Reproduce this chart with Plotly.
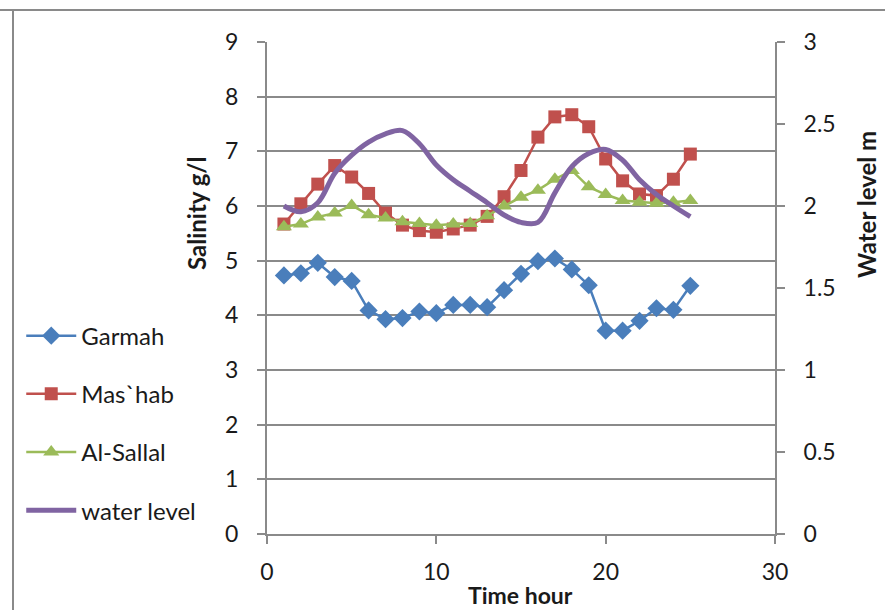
import plotly.graph_objects as go

hours = list(range(1, 26))
garmah = [4.73, 4.77, 4.96, 4.70, 4.63, 4.09, 3.93, 3.95, 4.07, 4.04, 4.19, 4.19, 4.15,
          4.46, 4.76, 4.99, 5.04, 4.84, 4.55, 3.72, 3.72, 3.90, 4.13, 4.10, 4.54]
mashab = [5.67, 6.04, 6.40, 6.74, 6.53, 6.23, 5.87, 5.65, 5.55, 5.52, 5.58, 5.65, 5.81,
          6.17, 6.65, 7.26, 7.63, 7.67, 7.45, 6.86, 6.46, 6.22, 6.19, 6.49, 6.95]
sallal = [5.62, 5.67, 5.80, 5.87, 6.01, 5.84, 5.78, 5.71, 5.68, 5.65, 5.67, 5.68, 5.82,
          6.00, 6.16, 6.29, 6.49, 6.65, 6.35, 6.21, 6.10, 6.07, 6.05, 6.07, 6.10]
water = [2.00, 1.965, 2.02, 2.20, 2.31, 2.39, 2.44, 2.46, 2.38, 2.25, 2.16, 2.09, 2.02,
         1.945, 1.90, 1.90, 2.08, 2.24, 2.32, 2.345, 2.28, 2.16, 2.07, 2.00, 1.935]

x_ticks = [0, 10, 20, 30]
y_ticks = list(range(0, 10))
y2_ticks = [0, 0.5, 1, 1.5, 2, 2.5, 3]
y2_text = ["0", "0.5", "1", "1.5", "2", "2.5", "3"]

FONT = "Lato"
AX = "#8a8a8a"
TICK = 23
TITLE = 24

fig = go.Figure()
fig.add_trace(go.Scatter(x=hours, y=garmah, name="Garmah", mode="lines+markers",
                         legendgroup="a",
                         line=dict(color="#4A7EBB", width=2.5),
                         marker=dict(symbol="diamond", size=14, color="#4A7EBB")))
fig.add_trace(go.Scatter(x=hours, y=mashab, name="Mas`hab", mode="lines+markers",
                         legendgroup="b",
                         line=dict(color="#C0504D", width=2.5),
                         marker=dict(symbol="square", size=13, color="#C0504D")))
fig.add_trace(go.Scatter(x=hours, y=sallal, name="Al-Sallal", mode="lines+markers",
                         legendgroup="c",
                         line=dict(color="#9BBB59", width=2.5),
                         marker=dict(symbol="triangle-up", size=14, color="#9BBB59")))
fig.add_trace(go.Scatter(x=hours, y=water, name="water level", mode="lines",
                         legendgroup="d", yaxis="y2",
                         line=dict(color="#8064A2", width=5, shape="spline", smoothing=1.0)))

fig.update_layout(
    width=885, height=610,
    margin=dict(l=267, r=110, t=42, b=76),
    paper_bgcolor="white", plot_bgcolor="white",
    font=dict(family=FONT, size=TICK, color="#1a1a1a"),
    showlegend=True,
    legend=dict(xref="container", yref="container", x=0.024, y=0.486,
                xanchor="left", yanchor="top", tracegroupgap=24,
                font=dict(family=FONT, size=24, color="#1a1a1a"),
                bgcolor="rgba(0,0,0,0)", itemwidth=50),
    xaxis=dict(range=[0, 30], tickvals=x_ticks, showgrid=False, zeroline=False,
               showline=True, linecolor=AX, linewidth=2,
               ticks="outside", ticklen=8, tickwidth=2, tickcolor=AX,
               tickfont=dict(family=FONT, size=TICK), ticklabelstandoff=8),
    yaxis=dict(range=[0, 9], tickvals=y_ticks, showgrid=True, gridcolor=AX, gridwidth=2,
               zeroline=False, showline=True, linecolor=AX, linewidth=2,
               ticks="outside", ticklen=8, tickwidth=2, tickcolor=AX,
               tickfont=dict(family=FONT, size=TICK), ticklabelstandoff=14),
    yaxis2=dict(range=[0, 3], tickvals=y2_ticks, ticktext=y2_text, overlaying="y", side="right",
                showgrid=False, zeroline=False, showline=True, linecolor=AX, linewidth=2,
                ticks="outside", ticklen=8, tickwidth=2, tickcolor=AX,
                tickfont=dict(family=FONT, size=TICK), ticklabelstandoff=14),
    shapes=[
        dict(type="line", xref="paper", yref="paper", x0=-267/508, x1=(885-267)/508 + 0.1,
             y0=1 + 32/492, y1=1 + 32/492, line=dict(color="#8a8a8a", width=2)),
        dict(type="line", xref="paper", yref="paper", x0=-254/508, x1=-254/508,
             y0=-1, y1=1 + 32/492, line=dict(color="#8a8a8a", width=2)),
    ],
    annotations=[
        dict(text="<b>Salinity g/l</b>", xref="paper", yref="paper",
             x=(196-267)/508, y=(534-213)/492, textangle=-90, showarrow=False,
             xanchor="center", yanchor="middle", font=dict(family=FONT, size=TITLE)),
        dict(text="<b>Water level m</b>", xref="paper", yref="paper",
             x=(866-267)/508, y=(534-205)/492, textangle=-90, showarrow=False,
             xanchor="center", yanchor="middle", font=dict(family=FONT, size=TITLE)),
        dict(text="<b>Time hour</b>", xref="paper", yref="paper",
             x=(520-267)/508, y=-(595-534)/492, showarrow=False,
             xanchor="center", yanchor="middle", font=dict(family=FONT, size=23)),
    ],
)

fig.write_html("out.html")
